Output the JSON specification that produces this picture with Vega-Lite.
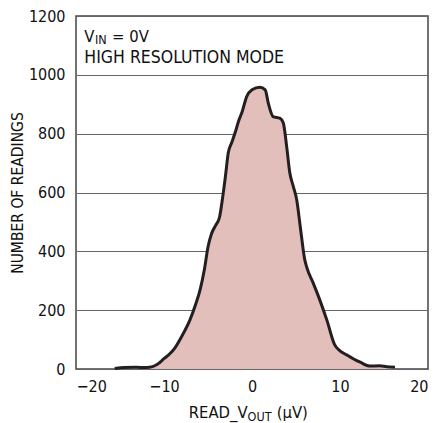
{
  "$schema": "https://vega.github.io/schema/vega-lite/v6.json",
  "width": 352,
  "height": 353,
  "autosize": {"type": "none"},
  "padding": {"left": 76, "top": 16, "right": 10, "bottom": 54},
  "background": "white",
  "config": {
    "font": "DejaVu Sans Condensed, sans-serif",
    "view": {"stroke": "#444", "strokeWidth": 1.5},
    "axis": {
      "labelFont": "DejaVu Sans Condensed, sans-serif",
      "titleFont": "DejaVu Sans Condensed, sans-serif",
      "labelFontSize": 16,
      "titleFontSize": 15.5,
      "titleFontWeight": "normal",
      "labelColor": "#111",
      "titleColor": "#111",
      "ticks": false,
      "domain": false
    }
  },
  "datasets": {
    "curve": [
      {"v": -15.6, "n": 2}, {"v": -14.5, "n": 5}, {"v": -13.2, "n": 6}, {"v": -12.0, "n": 5},
      {"v": -11.3, "n": 8}, {"v": -10.8, "n": 15}, {"v": -10.0, "n": 35}, {"v": -9.4, "n": 50},
      {"v": -8.75, "n": 72}, {"v": -8.0, "n": 110}, {"v": -7.05, "n": 167}, {"v": -6.4, "n": 220},
      {"v": -5.9, "n": 269}, {"v": -5.4, "n": 340}, {"v": -5.0, "n": 415}, {"v": -4.6, "n": 460},
      {"v": -4.1, "n": 490}, {"v": -3.7, "n": 515}, {"v": -3.35, "n": 580}, {"v": -3.0, "n": 660},
      {"v": -2.7, "n": 734}, {"v": -2.3, "n": 770}, {"v": -1.93, "n": 802}, {"v": -1.5, "n": 845},
      {"v": -1.17, "n": 870}, {"v": -0.6, "n": 926}, {"v": 0.0, "n": 949}, {"v": 0.9, "n": 958},
      {"v": 1.5, "n": 949}, {"v": 1.85, "n": 904}, {"v": 2.4, "n": 858}, {"v": 3.2, "n": 852},
      {"v": 3.56, "n": 836}, {"v": 3.94, "n": 756}, {"v": 4.3, "n": 666}, {"v": 4.7, "n": 620},
      {"v": 5.08, "n": 575}, {"v": 5.5, "n": 480}, {"v": 6.0, "n": 371}, {"v": 6.2, "n": 348},
      {"v": 6.97, "n": 291}, {"v": 7.7, "n": 235}, {"v": 8.5, "n": 167}, {"v": 9.4, "n": 82},
      {"v": 10.0, "n": 62}, {"v": 10.76, "n": 48}, {"v": 11.5, "n": 35}, {"v": 12.3, "n": 23},
      {"v": 13.4, "n": 10}, {"v": 14.5, "n": 11}, {"v": 15.3, "n": 8}, {"v": 16.25, "n": 6}
    ],
    "labels": [
      {"t": "V", "v": -19.05, "n": 1112, "kind": "big", "al": "left"},
      {"t": "IN", "v": -17.85, "n": 1104, "kind": "sub", "al": "left"},
      {"t": "= 0V", "v": -15.9, "n": 1112, "kind": "big", "al": "left"},
      {"t": "HIGH RESOLUTION MODE", "v": -19.05, "n": 1039, "kind": "big2", "al": "left"},
      {"t": "READ_V", "v": -0.5, "n": -165, "kind": "big", "al": "right"},
      {"t": "OUT", "v": -0.5, "n": -176, "kind": "sub", "al": "left"},
      {"t": "(µV)", "v": 2.8, "n": -165, "kind": "big", "al": "left"}
    ]
  },
  "layer": [
    {
      "data": {"name": "curve"},
      "mark": {"type": "area", "interpolate": "monotone", "color": "#e2bfba", "fillOpacity": 1, "opacity": 1, "line": {"color": "#231f20", "strokeWidth": 3}},
      "encoding": {
        "x": {"field": "v", "type": "quantitative", "scale": {"domain": [-20, 20], "nice": false},
          "axis": {"values": [-20, -10, 0, 10, 20], "grid": false, "title": null, "labelPadding": 9}},
        "y": {"field": "n", "type": "quantitative", "scale": {"domain": [0, 1200], "nice": false},
          "axis": {"values": [0, 200, 400, 600, 800, 1000, 1200], "format": "d", "grid": true, "gridColor": "#666", "gridWidth": 1,
            "title": "NUMBER OF READINGS", "labelPadding": 11, "titlePadding": 3}}
      }
    },
    {
      "data": {"name": "labels"},
      "transform": [{"filter": "datum.kind === 'big' && datum.al === 'left'"}],
      "mark": {"type": "text", "align": "left", "baseline": "alphabetic", "fontSize": 16.5, "color": "#111", "clip": false},
      "encoding": {
        "x": {"field": "v", "type": "quantitative"},
        "y": {"field": "n", "type": "quantitative"},
        "text": {"field": "t"}
      }
    },
    {
      "data": {"name": "labels"},
      "transform": [{"filter": "datum.kind === 'big2'"}],
      "mark": {"type": "text", "align": "left", "baseline": "alphabetic", "fontSize": 17.5, "color": "#111", "clip": false},
      "encoding": {
        "x": {"field": "v", "type": "quantitative"},
        "y": {"field": "n", "type": "quantitative"},
        "text": {"field": "t"}
      }
    },
    {
      "data": {"name": "labels"},
      "transform": [{"filter": "datum.kind === 'big' && datum.al === 'right'"}],
      "mark": {"type": "text", "align": "right", "baseline": "alphabetic", "fontSize": 16.5, "color": "#111", "clip": false},
      "encoding": {
        "x": {"field": "v", "type": "quantitative"},
        "y": {"field": "n", "type": "quantitative"},
        "text": {"field": "t"}
      }
    },
    {
      "data": {"name": "labels"},
      "transform": [{"filter": "datum.kind === 'sub'"}],
      "mark": {"type": "text", "align": "left", "baseline": "alphabetic", "fontSize": 12.5, "color": "#111", "clip": false},
      "encoding": {
        "x": {"field": "v", "type": "quantitative"},
        "y": {"field": "n", "type": "quantitative"},
        "text": {"field": "t"}
      }
    }
  ]
}
